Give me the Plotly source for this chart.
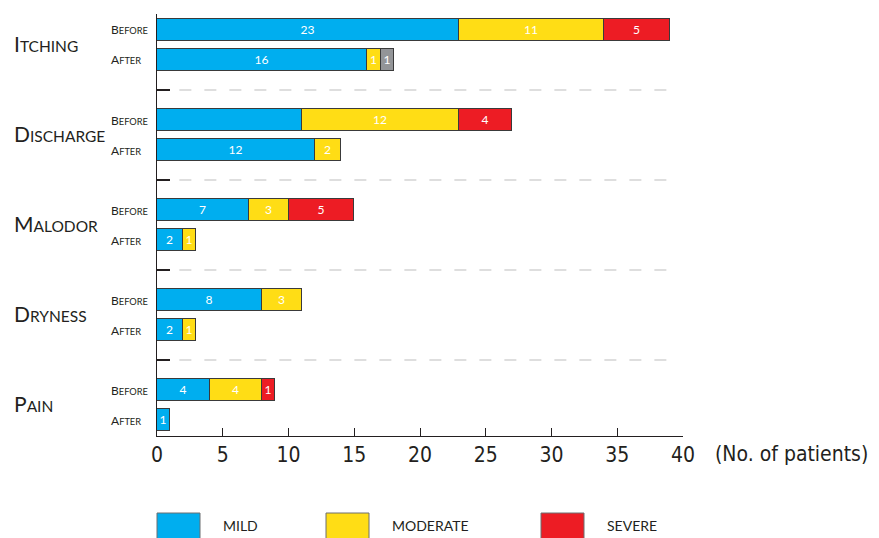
import plotly.graph_objects as go

# ---- data ----
symptoms = ["Itching", "Discharge", "Malodor", "Dryness", "Pain"]
phases = ["Before", "After"]
severity_names = ["MILD", "MODERATE", "SEVERE"]

mild_before = [23, 11, 7, 8, 4]
moderate_before = [11, 12, 3, 3, 4]
severe_before = [5, 4, 5, 0, 1]
mild_after = [16, 12, 2, 2, 1]
moderate_after = [1, 2, 1, 1, 0]
severe_after = [0, 0, 0, 0, 0]
other_after = [1, 0, 0, 0, 0]

mild_before_labels = ["23", "", "7", "8", "4"]

x_ticks = [0, 5, 10, 15, 20, 25, 30, 35, 40]
x_title = "(No. of patients)"

# ---- styling ----
C_MILD = "#00AEEF"
C_MOD = "#FFDD15"
C_SEV = "#ED1C24"
C_OTHER = "#939598"
TXT = "#231F20"
EDGE = "#3a3a3a"
FONT = "Lato, 'Open Sans', sans-serif"
NUMFONT = "'Liberation Sans Narrow', 'DejaVu Sans Condensed', Lato, sans-serif"

n = len(symptoms)
y_before = [3 * i for i in range(n)]
y_after = [3 * i + 1 for i in range(n)]


def nz(vals):
    return [v if v else None for v in vals]


def lbl(vals):
    return [str(v) if v else "" for v in vals]


series = [
    (severity_names[0], C_MILD, mild_before, mild_after, mild_before_labels, lbl(mild_after)),
    (severity_names[1], C_MOD, moderate_before, moderate_after, lbl(moderate_before), lbl(moderate_after)),
    (severity_names[2], C_SEV, severe_before, severe_after, lbl(severe_before), lbl(severe_after)),
    ("other", C_OTHER, [0] * n, other_after, [""] * n, lbl(other_after)),
]

fig = go.Figure()
for name, color, before, after, tb, ta in series:
    fig.add_trace(go.Bar(
        orientation="h",
        name=name,
        y=y_before + y_after,
        x=nz(before) + nz(after),
        text=tb + ta,
        textposition="inside",
        insidetextanchor="middle",
        textfont=dict(color="white", size=12.5, family=FONT),
        marker=dict(color=color, line=dict(color=EDGE, width=1)),
        width=0.73,
        showlegend=False,
        hoverinfo="skip",
    ))


def smallcaps(word, small):
    return word[0].upper() + f"<span style='font-size:{small}px'>{word[1:].upper()}</span>"


# plot area in page pixels: x 157..683, y 14..436 (page has an 8px body margin)
W, H = 526.0, 422.0

annotations = []
for i, s in enumerate(symptoms):
    annotations.append(dict(
        x=(12 - 157) / W, xref="paper", y=3 * i + 0.45, yref="y",
        text=smallcaps(s, 15.5), showarrow=False, xanchor="left", yanchor="middle",
        font=dict(size=21, color=TXT, family=FONT),
    ))
    for j, ph in enumerate(phases):
        annotations.append(dict(
            x=(109 - 157) / W, xref="paper", y=3 * i + j, yref="y",
            text=smallcaps(ph, 9.3), showarrow=False, xanchor="left", yanchor="middle",
            font=dict(size=12, color=TXT, family=FONT),
        ))

annotations.append(dict(
    x=(713 - 157) / W, xref="paper", y=(436 - 454) / H, yref="paper",
    text=x_title, showarrow=False, xanchor="left", yanchor="middle",
    font=dict(size=21, color=TXT, family=NUMFONT),
))

shapes = []
for k in range(n - 1):
    shapes.append(dict(
        type="line", xref="x", yref="y", x0=1.7, x1=39.0, y0=3 * k + 2, y1=3 * k + 2,
        line=dict(color="#d4d4d4", width=1.5, dash="12px,13px"), layer="below",
    ))

legend_colors = [C_MILD, C_MOD, C_SEV]
box_x0 = [157, 326, 541]
for name, col, bx in zip(severity_names, legend_colors, box_x0):
    shapes.append(dict(
        type="rect", xref="paper", yref="paper",
        x0=(bx - 157) / W, x1=(bx + 43 - 157) / W,
        y0=(436 - 513) / H, y1=(436 - 548) / H,
        fillcolor=col, line=dict(color="#6d6e71", width=1),
    ))
    annotations.append(dict(
        x=(bx + 64 - 157) / W, xref="paper", y=(436 - 525) / H, yref="paper",
        text=name, showarrow=False, xanchor="left", yanchor="middle",
        font=dict(size=14, color=TXT, family=FONT),
    ))

fig.update_layout(
    width=871, height=530,
    margin=dict(l=149, r=196, t=6, b=102),
    paper_bgcolor="white", plot_bgcolor="white",
    barmode="stack",
    bargap=0,
    uniformtext=dict(minsize=10, mode="show"),
    showlegend=False,
    annotations=annotations,
    shapes=shapes,
    xaxis=dict(
        range=[0, 40], tickvals=x_ticks, ticks="inside", ticklen=8, tickwidth=1,
        tickcolor=TXT, showline=True, linecolor=TXT, linewidth=1,
        showgrid=False, zeroline=False,
        tickfont=dict(size=21, color=TXT, family=NUMFONT),
    ),
    yaxis=dict(
        range=[13.533, -0.533], tickvals=[2, 5, 8, 11], ticks="inside", ticklen=13,
        tickwidth=1.5, tickcolor=TXT, showticklabels=False,
        showline=True, linecolor=TXT, linewidth=1, showgrid=False, zeroline=False,
    ),
)

fig.write_html("out.html")
